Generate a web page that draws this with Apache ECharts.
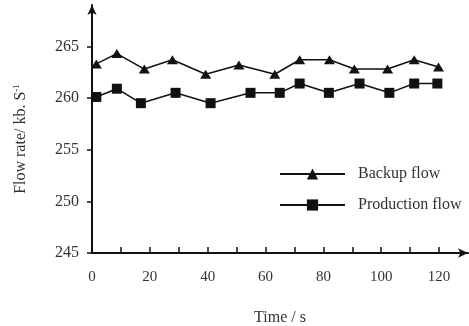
<!DOCTYPE html>
<html>
<head>
<meta charset="utf-8">
<script src="https://cdn.jsdelivr.net/npm/echarts@6.0.0/dist/echarts.min.js"></script>
<style>
html, body { margin: 0; padding: 0; background: #fff; }
#flowChart { width: 469px; height: 326px; }
</style>
</head>
<body>
<div id="flowChart"></div>
<script>
// data
var backupTime = [1.5, 8.6, 18.1, 27.8, 39.3, 50.8, 63.2, 71.8, 82.1, 90.7, 102.2, 111.4, 119.8];
var backupFlow = [263.3, 264.3, 262.8, 263.7, 262.3, 263.2, 262.3, 263.7, 263.7, 262.8, 262.8, 263.7, 263.0];
var prodTime = [1.5, 8.6, 16.9, 28.9, 41.0, 54.8, 64.9, 71.8, 81.9, 92.5, 102.8, 111.4, 119.4];
var prodFlow = [260.1, 260.9, 259.5, 260.5, 259.5, 260.5, 260.5, 261.4, 260.5, 261.4, 260.5, 261.4, 261.4];

var xTicks = [0, 10, 20, 30, 40, 50, 60, 70, 80, 90, 100, 110, 120];
var xLabels = [0, 20, 40, 60, 80, 100, 120];
var yTicks = [245, 250, 255, 260, 265];

function pairs(xs, ys) {
    return xs.map(function (x, i) { return [x, ys[i]]; });
}

firstShow();

function firstShow() {
    var font = 'Liberation Serif';
    var ink = '#111';
    var textColor = '#333';

    var chart = echarts.init(document.getElementById('flowChart'));
    var option = {
        animation: false,
        grid: {
            left: 92,
            right: 1,
            top: 5,
            bottom: 73,
            outerBoundsMode: 'none'
        },
        legend: {
            orient: 'vertical',
            left: 274,
            top: 161,
            itemWidth: 65,
            itemHeight: 14,
            itemGap: 15,
            textStyle: {
                fontFamily: font,
                fontSize: 16,
                color: textColor,
                padding: [0, 0, 0, 8]
            },
            data: ['Backup flow', 'Production flow']
        },
        xAxis: {
            type: 'value',
            min: 0,
            max: 130,
            name: 'Time / s',
            nameLocation: 'middle',
            nameGap: 57,
            nameTextStyle: {
                fontFamily: font,
                fontSize: 16,
                color: textColor
            },
            axisLine: {
                show: true,
                symbol: ['none', 'arrow'],
                symbolSize: [7, 10],
                lineStyle: { color: ink, width: 2 }
            },
            axisTick: {
                show: true,
                inside: true,
                length: 6,
                customValues: xTicks,
                lineStyle: { color: ink, width: 1.5 }
            },
            axisLabel: {
                customValues: xLabels,
                margin: 17,
                fontFamily: font,
                fontSize: 15,
                color: textColor
            },
            splitLine: { show: false }
        },
        yAxis: {
            type: 'value',
            min: 245,
            max: 269,
            name: '{a|Flow rate/ kb. S}{b|-1}',
            nameLocation: 'middle',
            nameGap: 62,
            nameTextStyle: {
                padding: [0, 20, 0, 0],
                rich: {
                    a: { fontFamily: font, fontSize: 16, color: textColor, lineHeight: 18 },
                    b: { fontFamily: font, fontSize: 9, color: textColor, verticalAlign: 'top', lineHeight: 18 }
                }
            },
            axisLine: {
                show: true,
                symbol: ['none', 'arrow'],
                symbolSize: [7, 10],
                lineStyle: { color: ink, width: 2 }
            },
            axisTick: {
                show: true,
                length: 5,
                customValues: yTicks,
                lineStyle: { color: ink, width: 1.5 }
            },
            axisLabel: {
                customValues: yTicks,
                margin: 13,
                fontFamily: font,
                fontSize: 16,
                color: textColor
            },
            splitLine: { show: false }
        },
        series: [{
            name: 'Backup flow',
            type: 'line',
            symbol: 'triangle',
            symbolSize: [11, 9],
            lineStyle: { color: ink, width: 1.5 },
            itemStyle: { color: ink },
            data: pairs(backupTime, backupFlow)
        }, {
            name: 'Production flow',
            type: 'line',
            symbol: 'rect',
            symbolSize: 10,
            lineStyle: { color: ink, width: 1.5 },
            itemStyle: { color: ink },
            data: pairs(prodTime, prodFlow)
        }]
    };
    chart.setOption(option);
    window.addEventListener('resize', function () {
        chart.resize();
    });
}
</script>
</body>
</html>
